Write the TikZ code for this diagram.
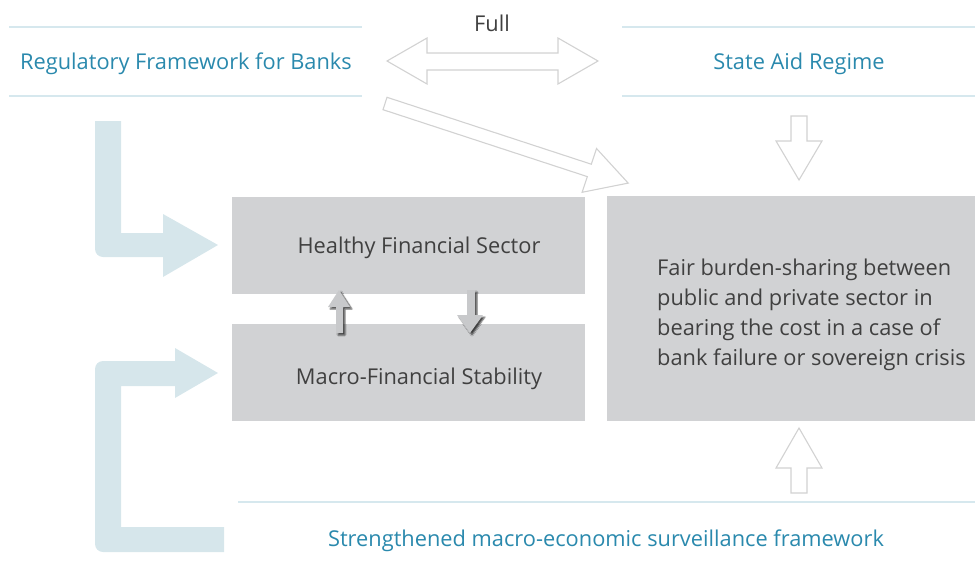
\documentclass[tikz,border=0pt]{standalone}
\usepackage{fontspec}
\setmainfont{Open Sans}
\usetikzlibrary{shadows.blur}
\definecolor{tealtxt}{HTML}{2A89AD}
\definecolor{darktxt}{HTML}{404040}
\definecolor{boxgray}{HTML}{D1D2D4}
\definecolor{rulecol}{HTML}{D6E8EE}
\definecolor{lblue}{HTML}{D6E6EB}
\definecolor{outl}{HTML}{D2D2D2}
\definecolor{smallarr}{HTML}{C8C9CB}
\begin{document}
\begin{tikzpicture}[x=1pt,y=-1pt,
  hdr/.style={text=tealtxt,font=\fontsize{21.8}{26}\selectfont,inner sep=0pt},
  boxtxt/.style={text=darktxt,font=\fontsize{21.8}{26}\selectfont,inner sep=0pt},
  graybox/.style={fill=boxgray,draw=none},
  rulel/.style={draw=rulecol,line width=1.2pt},
  outarrow/.style={draw=outl,line width=1.1pt,fill=white,line join=miter},
  bluearrow/.style={fill=lblue,draw=none},
  smallarrow/.style={fill=smallarr,draw=none,blur shadow={shadow xshift=2pt,shadow yshift=-2pt,shadow blur steps=4,shadow blur radius=1.2pt,shadow opacity=70}}
]
\useasboundingbox (0,0) rectangle (980,570);
% rules
\draw[rulel] (9,27) -- (362,27);
\draw[rulel] (9,96) -- (362,96);
\draw[rulel] (622,27) -- (975,27);
\draw[rulel] (622,96) -- (975,96);
\draw[rulel] (238,502) -- (975,502);
% headers
\node[hdr] (reg) at (186,64) {Regulatory Framework for Banks};
\node[hdr] (sar) at (799,64) {State Aid Regime};
\node[boxtxt] (full) at (492,23.5) {Full};
\node[hdr] (sur) at (606,541) {Strengthened macro-economic surveillance framework};
% boxes
\path[graybox] (232,197) rectangle (585,294);
\path[graybox] (232,324) rectangle (585,421);
\path[graybox] (607,196) rectangle (975,421);
\node[boxtxt] (hfs) at (419,248) {Healthy Financial Sector};
\node[boxtxt] (mfs) at (419,379) {Macro-Financial Stability};
\node[boxtxt,anchor=west,align=left,font=\fontsize{21.8}{29.8}\selectfont] (fair) at (657,315)
 {Fair burden-sharing between\\public and private sector in\\bearing the cost in a case of\\bank failure or sovereign crisis};
% outline arrows
\draw[outarrow] (387,61) -- (427,38) -- (427,53) -- (558,53) -- (558,38) -- (598,61)
  -- (558,84) -- (558,70) -- (427,70) -- (427,84) -- cycle;
\draw[outarrow] (387,97.3) -- (591.3,164.2) -- (596.5,148.5) -- (628.2,183.1)
  -- (582.1,192.3) -- (587.3,176.6) -- (383,109.7) -- cycle;
\draw[outarrow] (791,116) -- (807,116) -- (807,141) -- (822,141) -- (799,180)
  -- (776,141) -- (791,141) -- cycle;
\draw[outarrow] (791,493) -- (807,493) -- (807,468) -- (822,468) -- (799,428)
  -- (776,468) -- (791,468) -- cycle;
% blue L arrows
\path[bluearrow] (95,200) [rounded corners=8pt] -- (95,257) -- (130,257) [sharp corners]
  -- (163,257) -- (163,277) -- (218,245) -- (163,214) -- (163,233) -- (121,233)
  -- (121,121) -- (95,121) -- cycle;
\path[bluearrow] (95,450) [rounded corners=8pt] -- (95,552) -- (160,552) [sharp corners]
  -- (224,552) -- (224,527) -- (121,527) -- (121,386) -- (175,386) -- (175,398)
  -- (218,373) -- (175,348) -- (175,361) -- (130,361) [rounded corners=8pt]
  -- (95,361) -- (95,420) [sharp corners] -- cycle;
% small arrows
\path[smallarrow] (336,333) -- (343,333) -- (343,307) -- (350,307) -- (339,290)
  -- (328,307) -- (336,307) -- cycle;
\path[smallarrow] (467,290) -- (475,290) -- (475,315) -- (483,315) -- (470,333)
  -- (457,315) -- (467,315) -- cycle;
\end{tikzpicture}
\end{document}
